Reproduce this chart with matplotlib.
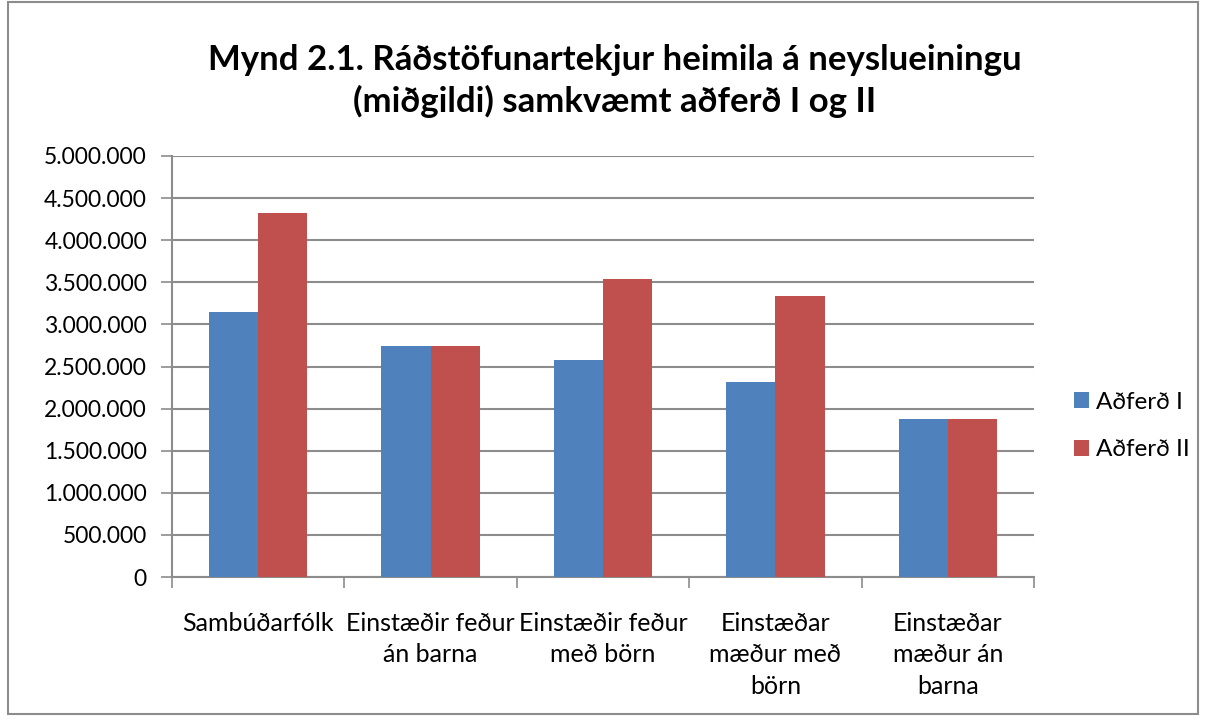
import matplotlib.pyplot as plt
import matplotlib.ticker as mticker
import numpy as np
from matplotlib.patches import Rectangle

plt.rcParams['font.family'] = ['Lato', 'DejaVu Sans']

flokkar = ['Sambúðarfólk', 'Einstæðir feður\nán barna', 'Einstæðir feður\nmeð börn',
           'Einstæðar\nmæður með\nbörn', 'Einstæðar\nmæður án\nbarna']
adferd_1 = [3142000, 2745000, 2579000, 2316000, 1876000]
adferd_2 = [4323000, 2745000, 3544000, 3339000, 1876000]
radir = ['Aðferð I', 'Aðferð II']

fig = plt.figure(figsize=(12.06, 7.2), dpi=100)
ax = fig.add_axes([172 / 1206, 1 - 577 / 720, 862 / 1206, 421 / 720])

x = np.arange(len(flokkar))
w = 0.285
ax.bar(x - w / 2, adferd_1, w, color='#4F81BD', label=radir[0], zorder=3)
ax.bar(x + w / 2, adferd_2, w, color='#C0504D', label=radir[1], zorder=3)

ax.set_xlim(-0.5, len(flokkar) - 0.5)
ax.set_ylim(0, 5000000)
ax.yaxis.set_major_locator(mticker.MultipleLocator(500000))
ax.yaxis.set_major_formatter(mticker.FuncFormatter(lambda v, p: f'{int(v):,}'.replace(',', '.')))
ax.grid(axis='y', color='#8c8c8c', linewidth=1.5, zorder=0)

# tick marks between categories, labels in the middle
ax.set_xticks(np.arange(-0.5, len(flokkar)), minor=False)
ax.set_xticklabels([])
ax.set_xticks(x, minor=True)
ax.set_xticklabels(flokkar, minor=True, fontsize=18, linespacing=1.45, va='top')
ax.tick_params(axis='x', which='major', length=8, color='#8c8c8c', width=1.2)
ax.tick_params(axis='x', which='minor', length=0, pad=25)
ax.tick_params(axis='y', length=8, color='#8c8c8c', width=1.2, labelsize=16.5, pad=10)

for s in ['top', 'right']:
    ax.spines[s].set_visible(False)
for s in ['left', 'bottom']:
    ax.spines[s].set_color('#8c8c8c')
    ax.spines[s].set_linewidth(1.5)

ax.legend(loc='center left', bbox_to_anchor=(1074 / 1206, 1 - 426 / 720), bbox_transform=fig.transFigure,
          frameon=False, fontsize=17.5, handlelength=0.6, handleheight=0.6, labelspacing=1.1,
          handletextpad=0.3, borderpad=0, borderaxespad=0)

fig.text(615 / 1206, 1 - 81 / 720, 'Mynd 2.1. Ráðstöfunartekjur heimila á neyslueiningu\n(miðgildi) samkvæmt aðferð I og II',
         ha='center', va='center', fontsize=25, fontweight='bold', linespacing=1.35)

fig.patches.append(Rectangle((8 / 1206, 6 / 720), 1190 / 1206, 712 / 720, transform=fig.transFigure,
                             fill=False, edgecolor='#8c8c8c', linewidth=1.5))

fig.savefig('out.png', dpi=100)
